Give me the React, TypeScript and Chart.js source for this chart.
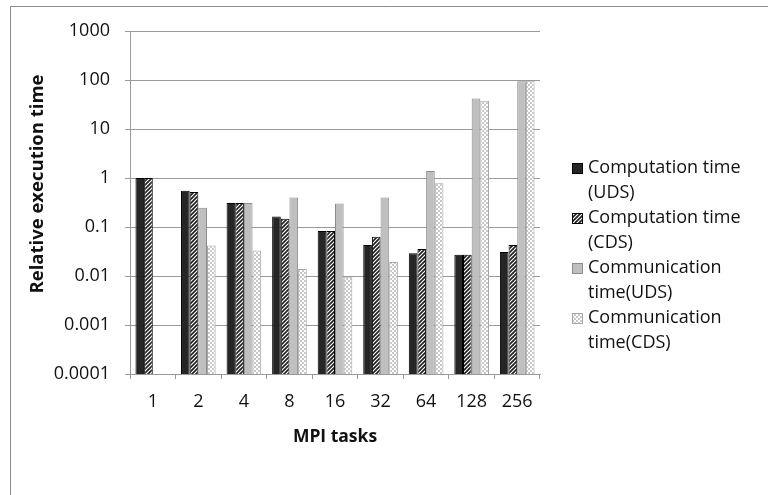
import { useEffect, useRef } from "react";
import { Chart, registerables } from "chart.js";

Chart.register(...registerables);

const categories = ["1", "2", "4", "8", "16", "32", "64", "128", "256"];
const computationUDS = [1, 0.55, 0.31, 0.163, 0.083, 0.043, 0.029, 0.027, 0.031];
const computationCDS = [1, 0.52, 0.31, 0.148, 0.083, 0.0635, 0.0356, 0.027, 0.043];
const communicationUDS = [null, 0.248, 0.31, 0.4, 0.3, 0.4, 1.39, 42, 94];
const communicationCDS = [null, 0.042, 0.033, 0.0139, 0.0094, 0.0193, 0.78, 37.8, 97];
const seriesLabels = [
  ["Computation time", "(UDS)"],
  ["Computation time", "(CDS)"],
  ["Communication", "time(UDS)"],
  ["Communication", "time(CDS)"],
];
const yTickValues = [0.0001, 0.001, 0.01, 0.1, 1, 10, 100, 1000];
const yTickLabels = ["0.0001", "0.001", "0.01", "0.1", "1", "10", "100", "1000"];
const xTitle = "MPI tasks";
const yTitle = "Relative execution time";

const FONT = "'Open Sans', 'Liberation Sans', sans-serif";
const TEXT = "#111111";
const GRID = "#9a9a9a";
const FS = 18;

function hatchPattern(ctx: CanvasRenderingContext2D) {
  const c = document.createElement("canvas");
  c.width = 4;
  c.height = 4;
  const g = c.getContext("2d")!;
  g.fillStyle = "#1e1e1e";
  g.fillRect(0, 0, 4, 4);
  g.strokeStyle = "#ffffff";
  g.lineWidth = 1.2;
  g.beginPath();
  g.moveTo(0, 4);
  g.lineTo(4, 0);
  g.moveTo(-1, 1);
  g.lineTo(1, -1);
  g.moveTo(3, 5);
  g.lineTo(5, 3);
  g.stroke();
  return ctx.createPattern(c, "repeat")!;
}

function checkerPattern(ctx: CanvasRenderingContext2D) {
  const c = document.createElement("canvas");
  c.width = 4;
  c.height = 4;
  const g = c.getContext("2d")!;
  g.fillStyle = "#ffffff";
  g.fillRect(0, 0, 4, 4);
  g.fillStyle = "#c8c8c8";
  g.fillRect(0, 0, 2, 2);
  g.fillRect(2, 2, 2, 2);
  return ctx.createPattern(c, "repeat")!;
}

const framePlugin = {
  id: "frame",
  beforeDraw(chart: any) {
    const { ctx, width, height } = chart;
    ctx.save();
    ctx.strokeStyle = "#8c8c8c";
    ctx.lineWidth = 1;
    ctx.beginPath();
    ctx.moveTo(10.5, height);
    ctx.lineTo(10.5, 6.5);
    ctx.lineTo(width, 6.5);
    ctx.stroke();
    ctx.restore();
  },
};

const legendPlugin = {
  id: "customLegend",
  afterDraw(chart: any) {
    const { ctx, chartArea } = chart;
    const boxX = chartArea.right + 32;
    const textX = chartArea.right + 48;
    let y = chartArea.top + 137;
    ctx.save();
    ctx.font = `${FS}px ${FONT}`;
    ctx.textBaseline = "middle";
    ctx.textAlign = "left";
    chart.data.datasets.forEach((ds: any, i: number) => {
      ctx.fillStyle = ds.backgroundColor;
      ctx.fillRect(boxX, y - 5, 11, 11);
      ctx.strokeStyle = ds.borderColor;
      ctx.lineWidth = 1;
      ctx.strokeRect(boxX + 0.5, y - 4.5, 10, 10);
      ctx.fillStyle = TEXT;
      const lines: string[] = seriesLabels[i];
      lines.forEach((t, j) => ctx.fillText(t, textX, y + j * 25));
      y += 50;
    });
    ctx.restore();
  },
};

const yTitlePlugin = {
  id: "yTitle",
  afterDraw(chart: any) {
    const { ctx, chartArea } = chart;
    ctx.save();
    ctx.translate(chartArea.left - 92, chartArea.top + 153);
    ctx.rotate(-Math.PI / 2);
    ctx.font = `bold 18.5px ${FONT}`;
    ctx.fillStyle = TEXT;
    ctx.textAlign = "center";
    ctx.textBaseline = "middle";
    ctx.fillText(yTitle, 0, 0);
    ctx.restore();
  },
};

export default function App() {
  const ref = useRef<HTMLCanvasElement | null>(null);

  useEffect(() => {
    const canvas = ref.current!;
    const ctx = canvas.getContext("2d")!;
    const hatch = hatchPattern(ctx);
    const checker = checkerPattern(ctx);

    const chart = new Chart(canvas, {
      type: "bar",
      data: {
        labels: categories,
        datasets: [
          { label: seriesLabels[0].join(" "), data: computationUDS, backgroundColor: "#262626", borderColor: "#000000", borderWidth: 1 },
          { label: seriesLabels[1].join(" "), data: computationCDS, backgroundColor: hatch as any, borderColor: "#000000", borderWidth: 1 },
          { label: seriesLabels[2].join(" "), data: communicationUDS, backgroundColor: "#bfbfbf", borderColor: "#8c8c8c", borderWidth: 1 },
          { label: seriesLabels[3].join(" "), data: communicationCDS, backgroundColor: checker as any, borderColor: "#a6a6a6", borderWidth: 1 },
        ],
      },
      options: {
        responsive: false,
        animation: false,
        devicePixelRatio: 1,
        layout: { padding: { left: 10, top: 31, right: 228, bottom: 40 } },
        datasets: { bar: { barPercentage: 1, categoryPercentage: 0.76 } },
        plugins: { legend: { display: false }, tooltip: { enabled: false } },
        scales: {
          x: {
            afterFit: (s: any) => { s.height = 81; },
            grid: { offset: true, drawOnChartArea: false, drawTicks: true, tickLength: 5, color: GRID },
            border: { color: GRID },
            ticks: { color: TEXT, font: { family: FONT, size: FS }, padding: 12, maxRotation: 0 },
            title: { display: true, text: xTitle, color: TEXT, font: { family: FONT, size: 17.5, weight: "bold" }, padding: { top: 0, bottom: 7 } },
          },
          y: {
            type: "logarithmic",
            min: 0.0001,
            max: 1000,
            afterFit: (s: any) => { s.width = 120; },
            afterBuildTicks: (s: any) => { s.ticks = yTickValues.map((v) => ({ value: v })); },
            grid: { color: GRID, tickLength: 5 },
            border: { color: GRID },
            ticks: {
              color: TEXT,
              font: { family: FONT, size: FS },
              padding: 15,
              callback: (_v: any, i: number) => yTickLabels[i],
            },
          },
        },
      },
      plugins: [framePlugin, legendPlugin, yTitlePlugin],
    });
    return () => chart.destroy();
  }, []);

  return (
    <div style={{ position: "absolute", left: 0, top: 0, width: 768, height: 495, background: "#fff" }}>
      <canvas ref={ref} width={768} height={495} />
    </div>
  );
}
